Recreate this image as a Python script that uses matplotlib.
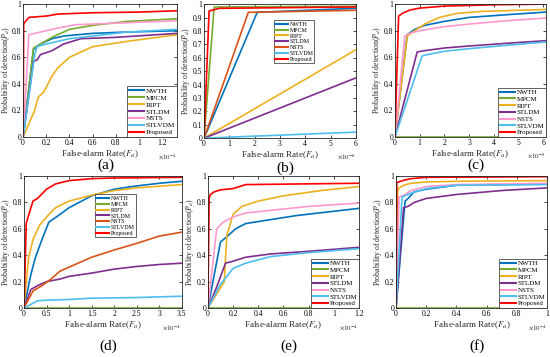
import matplotlib
matplotlib.use("Agg")
import matplotlib.pyplot as plt

plt.rcParams['font.family'] = ['Liberation Serif', 'DejaVu Serif']
plt.rcParams['mathtext.fontset'] = 'stix'

NAMES = ["NWTH", "MPCM", "RIPT", "STLDM", "NSTS", "STLVDM", "Proposed"]
COLORS = ["#0072BD", "#77AC30", "#EDB120", "#7E2F8E", "#FF99CC", "#4DBEEE", "#FF0000"]
COLORS_ALT = ["#0072BD", "#77AC30", "#EDB120", "#7E2F8E", "#D95319", "#4DBEEE", "#FF0000"]

# ---- panel (a), x in 1e-4
A_NWTH = ([0, 0.09, 0.15, 0.25, 0.35, 0.6, 0.9, 1.33], [0, 0.66, 0.70, 0.74, 0.76, 0.78, 0.79, 0.80])
A_MPCM = ([0, 0.09, 0.13, 0.25, 0.4, 0.6, 0.9, 1.33], [0, 0.67, 0.69, 0.75, 0.81, 0.84, 0.87, 0.89])
A_RIPT = ([0, 0.1, 0.13, 0.18, 0.25, 0.3, 0.4, 0.6, 0.9, 1.33], [0, 0.20, 0.30, 0.34, 0.46, 0.52, 0.60, 0.68, 0.72, 0.77])
A_STLDM = ([0, 0.09, 0.12, 0.15, 0.25, 0.35, 0.5, 0.8, 1.33], [0, 0.57, 0.58, 0.62, 0.65, 0.70, 0.74, 0.75, 0.78])
A_NSTS = ([0, 0.05, 0.1, 0.2, 0.3, 0.45, 0.6, 0.9, 1.33], [0, 0.77, 0.78, 0.80, 0.82, 0.845, 0.85, 0.86, 0.875])
A_STLVDM = ([0, 0.1, 0.12, 0.2, 0.4, 0.6, 0.9, 1.33], [0, 0.62, 0.68, 0.70, 0.74, 0.76, 0.79, 0.81])
A_PROP = ([0, 0.005, 0.02, 0.05, 0.2, 0.3, 0.6, 1.0, 1.33], [0, 0.85, 0.87, 0.90, 0.91, 0.925, 0.935, 0.94, 0.95])

# ---- panel (b), x in 1e-6
B_NWTH = ([0, 2.1, 6], [0, 0.94, 0.97])
B_MPCM = ([0, 0.4, 6], [0, 0.98, 0.985])
B_RIPT = ([0, 6], [0, 0.66])
B_STLDM = ([0, 6], [0, 0.45])
B_NSTS = ([0, 1.75, 6], [0, 0.94, 0.955])
B_STLVDM = ([0, 6], [0, 0.045])
B_PROP = ([0, 0.2, 0.6, 6], [0, 0.95, 0.97, 0.98])

# ---- panel (c), x in 1e-5
C_NWTH = ([0, 0.5, 0.8, 1.2, 2, 3, 4.5, 6.1], [0, 0.77, 0.81, 0.84, 0.87, 0.90, 0.92, 0.94])
C_MPCM = ([0, 6.1], [0, 0])
C_RIPT = ([0, 0.5, 0.8, 1.2, 1.8, 2.5, 3.5, 6.1], [0, 0.76, 0.80, 0.85, 0.90, 0.93, 0.945, 0.96])
C_STLDM = ([0, 0.9, 1.2, 2, 3, 4.5, 6.1], [0, 0.64, 0.65, 0.67, 0.685, 0.705, 0.725])
C_NSTS = ([0, 0.4, 0.6, 1, 2, 3, 4.5, 6.1], [0, 0.76, 0.78, 0.80, 0.83, 0.85, 0.875, 0.895])
C_STLVDM = ([0, 1.1, 1.3, 2, 3, 4.5, 6.1], [0, 0.61, 0.62, 0.645, 0.665, 0.69, 0.715])
C_PROP = ([0, 0.15, 0.3, 0.6, 1, 2, 4, 6.1], [0, 0.91, 0.93, 0.955, 0.97, 0.985, 0.995, 1.0])

# ---- panel (d), x in 1e-4
D_NWTH = ([0, 0.15, 0.25, 0.4, 0.55, 0.8, 1, 1.5, 2, 2.5, 3, 3.5], [0, 0.25, 0.38, 0.52, 0.65, 0.71, 0.76, 0.85, 0.90, 0.925, 0.945, 0.96])
D_MPCM = ([0, 3.5], [0, 0])
D_RIPT = ([0, 0.1, 0.2, 0.35, 0.5, 0.7, 1, 1.5, 2, 2.5, 3.5], [0, 0.38, 0.52, 0.63, 0.69, 0.76, 0.81, 0.855, 0.89, 0.91, 0.935])
D_STLDM = ([0, 0.15, 0.3, 0.5, 0.8, 1, 1.5, 2, 2.5, 3, 3.5], [0, 0.14, 0.17, 0.20, 0.22, 0.24, 0.265, 0.295, 0.315, 0.33, 0.34])
D_NSTS = ([0, 0.2, 0.4, 0.6, 0.8, 1, 1.5, 2, 2.5, 3, 3.5], [0, 0.13, 0.17, 0.22, 0.28, 0.31, 0.385, 0.44, 0.49, 0.545, 0.575])
D_STLVDM = ([0, 0.3, 0.5, 1, 1.5, 2.5, 3.5], [0, 0.055, 0.06, 0.065, 0.075, 0.08, 0.09])
D_PROP = ([0, 0.05, 0.1, 0.2, 0.3, 0.5, 0.7, 1, 1.5, 2, 3.5], [0, 0.64, 0.70, 0.81, 0.83, 0.90, 0.94, 0.965, 0.98, 0.985, 0.99])

# ---- panel (e), x in 1e-4
E_NWTH = ([0, 0.1, 0.15, 0.22, 0.3, 0.5, 0.7, 1.2], [0, 0.50, 0.54, 0.60, 0.64, 0.67, 0.70, 0.755])
E_MPCM = ([0, 1.2], [0, 0])
E_RIPT = ([0, 0.13, 0.15, 0.2, 0.27, 0.4, 0.6, 0.9, 1.2], [0, 0.20, 0.55, 0.71, 0.77, 0.81, 0.85, 0.89, 0.92])
E_STLDM = ([0, 0.07, 0.14, 0.2, 0.3, 0.5, 0.8, 1.2], [0, 0.16, 0.34, 0.355, 0.385, 0.41, 0.43, 0.46])
E_NSTS = ([0, 0.07, 0.12, 0.2, 0.3, 0.5, 0.8, 1.2], [0, 0.60, 0.65, 0.69, 0.72, 0.74, 0.77, 0.795])
E_STLVDM = ([0, 0.1, 0.2, 0.3, 0.5, 0.8, 1.2], [0, 0.18, 0.30, 0.34, 0.39, 0.42, 0.45])
E_PROP = ([0, 0.01, 0.02, 0.05, 0.1, 0.15, 0.2, 0.25, 0.3, 1.2], [0, 0.83, 0.86, 0.88, 0.895, 0.90, 0.905, 0.92, 0.935, 0.945])

# ---- panel (f), x in 1e-4
F_NWTH = ([0, 0.06, 0.08, 0.12, 0.2, 0.4, 1], [0, 0.81, 0.83, 0.88, 0.90, 0.93, 0.94])
F_MPCM = ([0, 1], [0, 0])
F_RIPT = ([0, 0.01, 0.02, 0.05, 0.1, 0.2, 0.4, 1], [0, 0.88, 0.91, 0.93, 0.945, 0.955, 0.96, 0.965])
F_STLDM = ([0, 0.05, 0.08, 0.12, 0.2, 0.4, 0.7, 1], [0, 0.76, 0.77, 0.80, 0.83, 0.86, 0.89, 0.91])
F_NSTS = ([0, 0.02, 0.06, 0.1, 0.2, 0.4, 1], [0, 0.84, 0.86, 0.89, 0.92, 0.935, 0.945])
F_STLVDM = ([0, 0.04, 0.1, 0.2, 0.4, 1], [0, 0.84, 0.87, 0.905, 0.93, 0.935])
F_PROP = ([0, 0.005, 0.03, 0.06, 0.1, 0.2, 1], [0, 0.95, 0.96, 0.97, 0.98, 0.99, 0.995])

X_TICKS_A = [0, 0.2, 0.4, 0.6, 0.8, 1, 1.2]
X_TICKS_B = [0, 1, 2, 3, 4, 5, 6]
X_TICKS_D = [0, 0.5, 1, 1.5, 2, 2.5, 3, 3.5]
X_TICKS_F = [0, 0.2, 0.4, 0.6, 0.8, 1]
Y_TICKS = [0, 0.2, 0.4, 0.6, 0.8, 1]
Y_TICKS_B = [0, 0.1, 0.2, 0.3, 0.4, 0.5, 0.6, 0.7, 0.8, 0.9, 1]


def fmt(v):
    s = ("%.2f" % v).rstrip("0").rstrip(".")
    return s


panels = [
    dict(rect=[0.042, 0.616, 0.28, 0.3725], data=[A_NWTH, A_MPCM, A_RIPT, A_STLDM, A_NSTS, A_STLVDM, A_PROP],
         colors=COLORS, xlim=1.33, xt=X_TICKS_A, yt=Y_TICKS, exp=-4, label="(a)", ly=0.537, leg="lower right",
         lfs=5.2, lanchor=None),
    dict(rect=[0.371, 0.613, 0.276, 0.375], data=[B_NWTH, B_MPCM, B_RIPT, B_STLDM, B_NSTS, B_STLVDM, B_PROP],
         colors=COLORS_ALT, xlim=6, xt=X_TICKS_B, yt=Y_TICKS_B, exp=-6, label="(b)", ly=0.53, leg="upper left",
         lfs=4.3, lanchor=(0.46, 0.88)),
    dict(rect=[0.718, 0.616, 0.2745, 0.3725], data=[C_NWTH, C_MPCM, C_RIPT, C_STLDM, C_NSTS, C_STLVDM, C_PROP],
         colors=COLORS, xlim=6.1, xt=X_TICKS_B, yt=Y_TICKS, exp=-5, label="(c)", ly=0.537, leg="lower right",
         lfs=5.0, lanchor=None),
    dict(rect=[0.0436, 0.137, 0.287, 0.37], data=[D_NWTH, D_MPCM, D_RIPT, D_STLDM, D_NSTS, D_STLVDM, D_PROP],
         colors=COLORS_ALT, xlim=3.5, xt=X_TICKS_D, yt=Y_TICKS, exp=-4, label="(d)", ly=0.03, leg="upper left",
         lfs=4.3, lanchor=(0.45, 0.86)),
    dict(rect=[0.378, 0.137, 0.2745, 0.37], data=[E_NWTH, E_MPCM, E_RIPT, E_STLDM, E_NSTS, E_STLVDM, E_PROP],
         colors=COLORS, xlim=1.2, xt=X_TICKS_A, yt=Y_TICKS, exp=-4, label="(e)", ly=0.03, leg="lower right",
         lfs=5.0, lanchor=None),
    dict(rect=[0.72, 0.137, 0.2745, 0.37], data=[F_NWTH, F_MPCM, F_RIPT, F_STLDM, F_NSTS, F_STLVDM, F_PROP],
         colors=COLORS, xlim=1, xt=X_TICKS_F, yt=Y_TICKS, exp=-4, label="(f)", ly=0.03, leg="lower right",
         lfs=5.0, lanchor=None),
]

fig = plt.figure(figsize=(5.5, 3.57), dpi=100)

for p in panels:
    ax = fig.add_axes(p["rect"])
    for (xs, ys), name, c in zip(p["data"], NAMES, p["colors"]):
        ax.plot(xs, ys, color=c, lw=1.2, label=name)
    ax.set_xlim(0, p["xlim"])
    ax.set_ylim(0, 1)
    ax.set_xticks(p["xt"])
    ax.set_xticklabels([fmt(v) for v in p["xt"]])
    ax.set_yticks(p["yt"])
    ax.set_yticklabels([fmt(v) for v in p["yt"]])
    ax.tick_params(direction="in", top=True, right=True, labelsize=5.5, length=2.5, width=0.5, pad=1.2)
    for s in ax.spines.values():
        s.set_linewidth(0.6)
        s.set_color("#262626")
    ax.set_xlabel("False-alarm Rate($F_a$)", fontsize=6.5, labelpad=1, color="#262626")
    ax.set_ylabel("Probability of detection($P_d$)", fontsize=5.6, labelpad=0.3, color="#262626")
    ax.text(1.0, -0.11, r"$\times10^{%d}$" % p["exp"], transform=ax.transAxes, ha="right", va="top",
            fontsize=5, color="#262626")
    if p["lanchor"] is None:
        lg = ax.legend(loc=p["leg"], fontsize=p["lfs"], handlelength=2.2, handletextpad=0.2, borderpad=0.2,
                       labelspacing=0.12, borderaxespad=0.05, fancybox=False, framealpha=1, edgecolor="#262626")
    else:
        lg = ax.legend(loc=p["leg"], bbox_to_anchor=p["lanchor"], fontsize=p["lfs"], handlelength=2.2,
                       handletextpad=0.2, borderpad=0.2, labelspacing=0.12, borderaxespad=0.0, fancybox=False,
                       framealpha=1, edgecolor="#262626")
    lg.get_frame().set_linewidth(0.5)
    for ln in lg.get_lines():
        ln.set_linewidth(1.5)
    bx = p["rect"][0] + p["rect"][2] / 2
    fig.text(bx + 0.01, p["ly"], p["label"], ha="center", va="center", fontsize=11)

fig.savefig("out.png", dpi=100)
